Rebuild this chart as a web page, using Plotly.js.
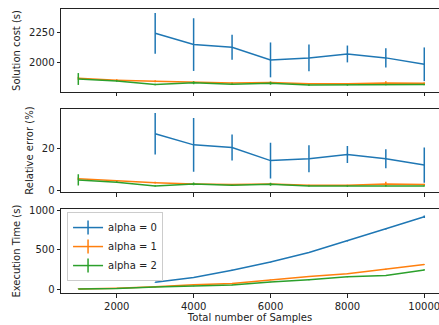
<!DOCTYPE html>
<html>
<head>
<meta charset="utf-8">
<script src="https://cdn.plot.ly/plotly-3.0.1.min.js"></script>
<style>html,body{margin:0;padding:0;background:#fff;}#chart{width:439px;height:325px;}</style>
</head>
<body>
<div id="chart"></div>
<script>
// ---- data ----
const samplesAll = [1000, 2000, 3000, 4000, 5000, 6000, 7000, 8000, 9000, 10000];
const samplesA0 = [3000, 4000, 5000, 6000, 7000, 8000, 9000, 10000];

const costA0 = [2247, 2152, 2130, 2023, 2040, 2073, 2040, 1986];
const costA0Err = [172, 222, 105, 147, 112, 71, 82, 142];
const costA1 = [1868, 1852, 1843, 1833, 1828, 1833, 1822, 1822, 1828, 1826];
const costA1Err = [12, 8, 8, 8, 6, 8, 6, 6, 15, 8];
const costA2 = [1862, 1845, 1815, 1830, 1817, 1826, 1812, 1812, 1815, 1815];
const costA2Err = [50, 6, 6, 12, 6, 12, 6, 6, 6, 6];

const errA0 = [26.9, 21.6, 20.3, 14.1, 15.0, 17.0, 15.0, 12.0];
const errA0Err = [9.9, 12.8, 6.2, 8.5, 6.4, 4.0, 4.5, 8.4];
const errA1 = [5.4, 4.4, 3.6, 3.0, 2.7, 3.0, 2.3, 2.3, 3.0, 2.7];
const errA1Err = [0.6, 0.4, 0.4, 0.4, 0.3, 0.4, 0.3, 0.3, 1.0, 0.4];
const errA2 = [4.9, 3.8, 2.0, 3.0, 2.3, 2.8, 2.0, 1.9, 2.0, 2.0];
const errA2Err = [2.7, 0.3, 0.3, 0.7, 0.3, 0.7, 0.3, 0.3, 0.3, 0.3];

const timeA0 = [86, 148, 240, 342, 465, 611, 765, 917];
const timeA0Err = [4, 4, 4, 5, 6, 8, 8, 15];
const timeA1 = [2, 10, 28, 55, 72, 118, 158, 195, 252, 312];
const timeA1Err = [1, 1, 2, 3, 3, 4, 4, 5, 7, 5];
const timeA2 = [2, 8, 25, 40, 52, 89, 118, 157, 172, 242];
const timeA2Err = [1, 1, 2, 3, 3, 4, 6, 6, 6, 8];

const seriesNames = ['alpha = 0', 'alpha = 1', 'alpha = 2'];
const colors = ['#1f77b4', '#ff7f0e', '#2ca02c'];

const yTitles = ['Solution cost (s)', 'Relative error (%)', 'Execution Time (s)'];
const xTitle = 'Total number of Samples';
const xTicks = [2000, 4000, 6000, 8000, 10000];
const yTicks1 = [2000, 2250];
const yTicks2 = [0, 20];
const yTicks3 = [0, 500, 1000];

// ---- traces ----
function tr(x, y, e, ci, axis) {
  return {
    x: x, y: y, type: 'scatter', mode: 'lines',
    line: {color: colors[ci], width: 1.5},
    error_y: {type: 'data', array: e, visible: true, color: colors[ci], thickness: 1.5, width: 0},
    xaxis: 'x', yaxis: axis, showlegend: false, hoverinfo: 'skip'
  };
}
const data = [
  tr(samplesA0, costA0, costA0Err, 0, 'y'),
  tr(samplesAll, costA1, costA1Err, 1, 'y'),
  tr(samplesAll, costA2, costA2Err, 2, 'y'),
  tr(samplesA0, errA0, errA0Err, 0, 'y2'),
  tr(samplesAll, errA1, errA1Err, 1, 'y2'),
  tr(samplesAll, errA2, errA2Err, 2, 'y2'),
  tr(samplesA0, timeA0, timeA0Err, 0, 'y3'),
  tr(samplesAll, timeA1, timeA1Err, 1, 'y3'),
  tr(samplesAll, timeA2, timeA2Err, 2, 'y3')
];
// legend entries (line with vertical error bar glyph)
seriesNames.forEach((n, i) => {
  data.push({
    x: [null], y: [null], type: 'scatter', mode: 'lines+markers', name: n,
    line: {color: colors[i], width: 1.5},
    marker: {symbol: 'line-ns-open', size: 10, color: colors[i], line: {color: colors[i], width: 1.5}},
    xaxis: 'x', yaxis: 'y3', showlegend: true
  });
});

const font = {family: 'DejaVu Sans, sans-serif', size: 10, color: '#222'};
function yax(domain, range, ticks, title) {
  return {
    domain: domain, range: range, tickvals: ticks, ticktext: ticks.map(String),
    showgrid: false, zeroline: false, showline: true, linecolor: '#222', linewidth: 1,
    ticks: 'outside', ticklen: 3.5, tickwidth: 1, tickcolor: '#222',
    tickfont: font, anchor: 'x',
    title: {text: title, font: font, standoff: 6}
  };
}
function xax(anchor, showLabels, title) {
  return {
    range: [550, 10383], tickvals: xTicks, ticktext: xTicks.map(String),
    showticklabels: showLabels, anchor: anchor, ticklabeloverflow: 'allow',
    showgrid: false, zeroline: false, showline: true, mirror: true, linecolor: '#222', linewidth: 1,
    ticks: 'outside', ticklen: 3.5, tickwidth: 1, tickcolor: '#222',
    tickfont: font,
    title: title ? {text: title, font: font, standoff: 3} : undefined
  };
}

const layout = {
  width: 439, height: 325,
  margin: {l: 61, r: 0, t: 9, b: 32},
  paper_bgcolor: '#fff', plot_bgcolor: '#fff',
  font: font,
  xaxis: xax('y3', true, xTitle),
  xaxis2: Object.assign(xax('y', false), {matches: 'x', overlaying: 'x'}),
  xaxis3: Object.assign(xax('y2', false), {matches: 'x', overlaying: 'x'}),
  yaxis: Object.assign(yax([0.708, 1.0], [1753, 2452], yTicks1, yTitles[0]), {anchor: 'x2'}),
  yaxis2: Object.assign(yax([0.355, 0.648], [-0.95, 38.7], yTicks2, yTitles[1]), {anchor: 'x3'}),
  yaxis3: yax([0, 0.295], [-50, 1013], yTicks3, yTitles[2]),
  showlegend: true,
  legend: {
    x: 0.016, y: 0.285, xanchor: 'left', yanchor: 'top',
    bgcolor: 'rgba(255,255,255,0.8)', bordercolor: '#ccc', borderwidth: 1,
    font: font, tracegroupgap: 0, itemwidth: 30
  }
};
// dummy traces on x2/x3 to show mirrored frame lines on top panels
data.push({x: [null], y: [null], xaxis: 'x2', yaxis: 'y', showlegend: false, type: 'scatter'});
data.push({x: [null], y: [null], xaxis: 'x3', yaxis: 'y2', showlegend: false, type: 'scatter'});

Plotly.newPlot('chart', data, layout, {staticPlot: true, displayModeBar: false});
</script>
</body>
</html>
